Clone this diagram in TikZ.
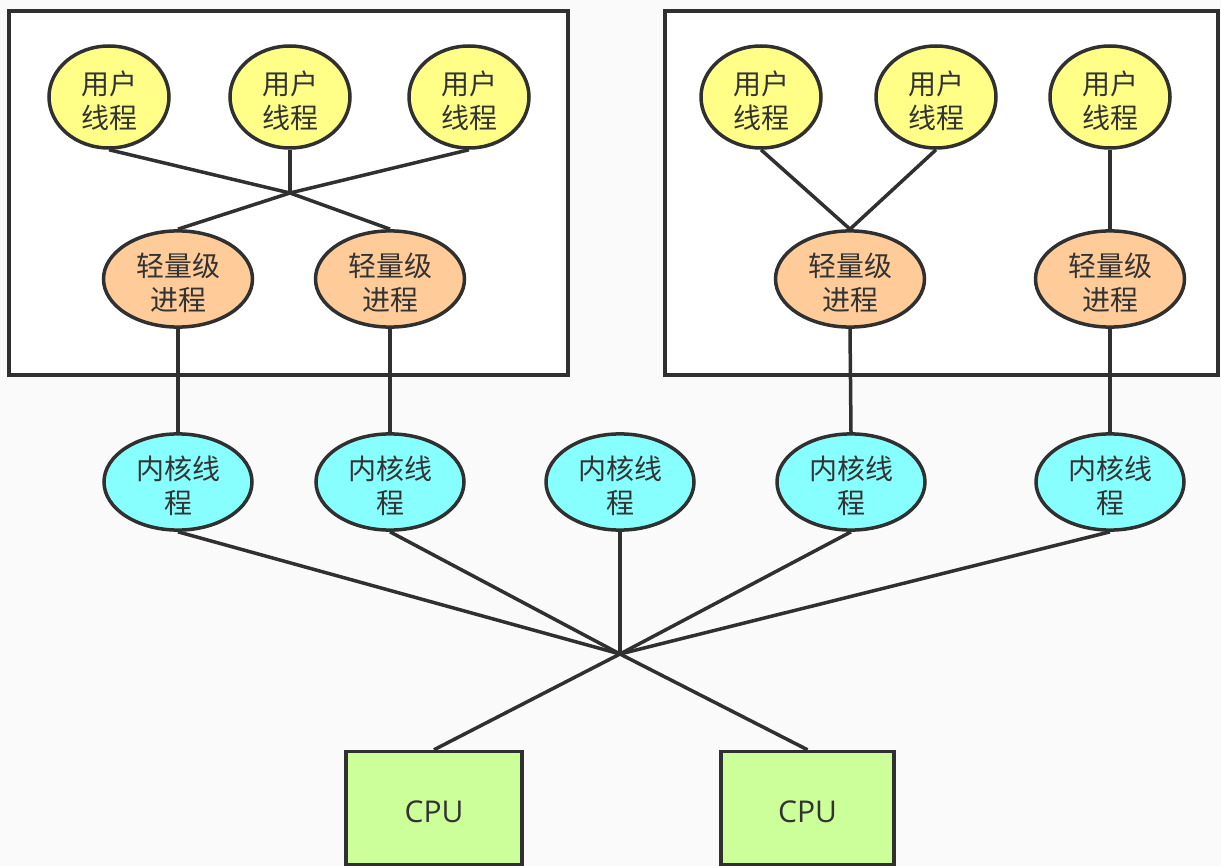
\documentclass[tikz,border=0pt]{standalone}
\usepackage{fontspec}
\setmainfont{Noto Sans CJK SC}
\newfontfamily\cpufont{Open Sans}
\usetikzlibrary{shapes.geometric}
\definecolor{bg}{RGB}{250,250,250}
\definecolor{ln}{RGB}{48,48,48}
\definecolor{txt}{RGB}{51,51,51}
\definecolor{yel}{RGB}{255,255,136}
\definecolor{ora}{RGB}{255,204,153}
\definecolor{cya}{RGB}{136,255,255}
\definecolor{grn}{RGB}{204,255,153}
\newcommand\lowtxt[1]{\raisebox{-8pt}[\height][\depth]{\begin{tabular}{@{}c@{}}#1\end{tabular}}}
\tikzset{
  base/.style={draw=ln, line width=3.5pt, inner sep=0pt, align=center, text=txt,
    font=\fontsize{28}{34}\selectfont},
  uthread/.style={base, ellipse, fill=yel, minimum width=120pt, minimum height=102pt},
  lwp/.style={base, ellipse, fill=ora, minimum width=149pt, minimum height=93pt},
  kthread/.style={base, ellipse, fill=cya, minimum width=148pt, minimum height=84pt},
  cpubox/.style={base, rectangle, fill=grn, minimum height=113pt,
    font=\cpufont\fontsize{30}{34}\selectfont},
  conn/.style={draw=ln, line width=3.5pt, line join=round},
  frame/.style={draw=ln, line width=4pt, fill=white}
}
\begin{document}
\begin{tikzpicture}[x=1pt,y=-1pt]
\fill[bg] (0,0) rectangle (1221,866);
\useasboundingbox (0,0) rectangle (1221,866);
\path[frame] (9,11) rectangle (568,375);
\path[frame] (665,11) rectangle (1218,375);

\node[uthread] (u1) at (109,97) {\lowtxt{用户\\线程}};
\node[uthread] (u2) at (290,97) {\lowtxt{用户\\线程}};
\node[uthread] (u3) at (469,97) {\lowtxt{用户\\线程}};
\node[uthread] (u4) at (761,97) {\lowtxt{用户\\线程}};
\node[uthread] (u5) at (936,97) {\lowtxt{用户\\线程}};
\node[uthread] (u6) at (1110,97) {\lowtxt{用户\\线程}};

\node[lwp] (l1) at (178,279) {\lowtxt{轻量级\\进程}};
\node[lwp] (l2) at (390,279) {\lowtxt{轻量级\\进程}};
\node[lwp] (l3) at (850,279) {\lowtxt{轻量级\\进程}};
\node[lwp] (l4) at (1110,279) {\lowtxt{轻量级\\进程}};

\node[kthread] (k1) at (178,482) {\lowtxt{内核线\\程}};
\node[kthread] (k2) at (390,482) {\lowtxt{内核线\\程}};
\node[kthread] (k3) at (620,482) {\lowtxt{内核线\\程}};
\node[kthread] (k4) at (851,482) {\lowtxt{内核线\\程}};
\node[kthread] (k5) at (1110,482) {\lowtxt{内核线\\程}};

\node[cpubox, minimum width=176pt] (c1) at (434,808) {\lowtxt{CPU}};
\node[cpubox, minimum width=173pt] (c2) at (807.5,808) {\lowtxt{CPU}};

\coordinate (xa) at (290,193);
\coordinate (xb) at (620,654);

\draw[conn] (u1.south) -- (xa) -- (l2.north);
\draw[conn] (u3.south) -- (xa) -- (l1.north);
\draw[conn] (u2.south) -- (xa);
\draw[conn] (u4.south) -- (l3.north);
\draw[conn] (u5.south) -- (l3.north);
\draw[conn] (u6.south) -- (l4.north);

\draw[conn] (l1.south) -- (k1.north);
\draw[conn] (l2.south) -- (k2.north);
\draw[conn] (l3.south) -- (k4.north);
\draw[conn] (l4.south) -- (k5.north);

\draw[conn] (k1.south) -- (xb);
\draw[conn] (k2.south) -- (xb);
\draw[conn] (k3.south) -- (xb);
\draw[conn] (k4.south) -- (xb);
\draw[conn] (k5.south) -- (xb);
\draw[conn] (xb) -- (c1.north);
\draw[conn] (xb) -- (c2.north);
\end{tikzpicture}
\end{document}
